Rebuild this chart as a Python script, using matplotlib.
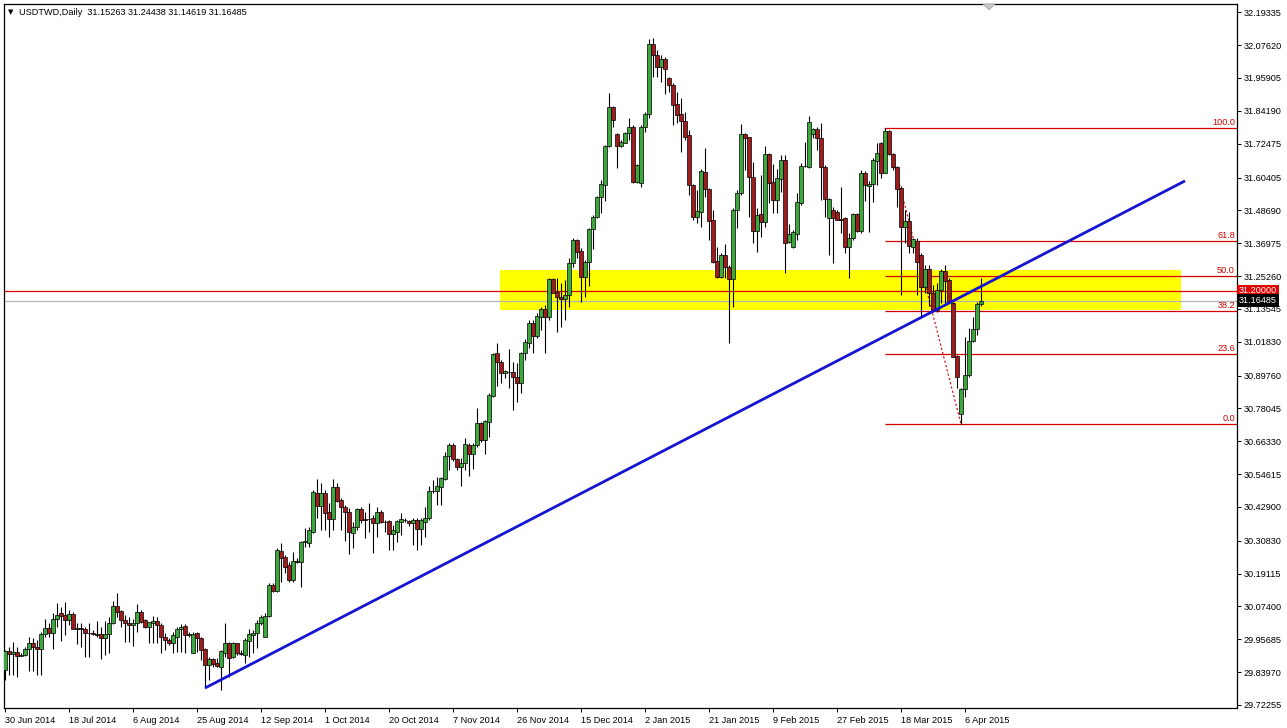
import matplotlib
matplotlib.use("Agg")
import matplotlib.pyplot as plt
import numpy as np
from matplotlib.patches import Rectangle, Polygon
from matplotlib.transforms import blended_transform_factory

# ---------------- data (USDTWD daily) ----------------
opens = [
29.847,29.915,29.905,29.912,29.899,29.900,29.921,29.945,29.930,29.924,
29.976,29.996,29.978,30.028,30.049,30.043,30.026,30.046,29.992,29.996,
29.992,29.981,29.978,29.975,29.975,29.963,29.975,30.014,30.075,30.057,
30.026,30.016,30.008,30.014,30.055,30.026,30.002,30.014,30.023,30.008,
29.966,29.954,29.942,29.966,29.992,30.004,29.972,29.907,29.978,29.960,
29.922,29.865,29.885,29.871,29.859,29.909,29.942,29.895,29.942,29.909,
29.901,29.952,29.972,29.978,30.014,29.966,30.040,30.151,30.130,30.273,
30.249,30.222,30.168,30.237,30.234,30.305,30.302,30.341,30.480,30.432,
30.478,30.412,30.385,30.501,30.454,30.428,30.410,30.337,30.359,30.422,
30.385,30.385,30.388,30.371,30.410,30.377,30.379,30.333,30.341,30.377,
30.383,30.379,30.371,30.383,30.349,30.377,30.388,30.485,30.487,30.501,
30.527,30.611,30.650,30.599,30.570,30.585,30.650,30.618,30.650,30.727,
30.668,30.733,30.825,30.977,30.947,30.906,30.912,30.912,30.894,30.872,
30.979,31.015,31.084,31.039,31.108,31.134,31.108,31.241,31.197,31.179,
31.172,31.184,31.298,31.381,31.343,31.250,31.304,31.419,31.462,31.533,
31.577,31.717,31.854,31.758,31.717,31.728,31.764,31.785,31.589,31.583,
31.785,31.831,32.080,32.041,31.997,32.026,31.958,31.934,31.866,31.831,
31.807,31.756,31.577,31.464,31.482,31.625,31.562,31.453,31.307,31.248,
31.328,31.284,31.241,31.488,31.548,31.759,31.747,31.607,31.415,31.473,
31.447,31.688,31.589,31.524,31.598,31.667,31.375,31.355,31.403,31.512,
31.645,31.643,31.759,31.776,31.744,31.643,31.459,31.488,31.482,31.455,
31.459,31.355,31.387,31.474,31.415,31.621,31.574,31.581,31.664,31.726,
31.621,31.771,31.688,31.640,31.566,31.429,31.449,31.357,31.379,31.328,
31.215,31.277,31.191,31.131,31.203,31.272,31.238,31.155,30.967,30.761,
30.849,30.900,31.022,31.063,31.15263]
highs = [
29.919,29.930,29.948,29.930,29.909,29.930,29.964,29.960,29.954,29.984,
30.028,30.014,30.049,30.085,30.073,30.091,30.061,30.055,30.016,30.014,
30.002,30.014,29.990,30.023,30.002,30.023,30.037,30.094,30.121,30.061,
30.043,30.037,30.028,30.083,30.061,30.031,30.020,30.040,30.037,30.014,
29.978,29.960,29.984,30.002,30.011,30.011,29.984,29.984,29.984,29.966,
29.925,29.895,29.889,29.889,29.919,30.014,29.948,29.948,29.945,29.919,
29.960,29.992,29.990,30.026,30.044,30.049,30.157,30.157,30.281,30.299,
30.258,30.234,30.269,30.246,30.309,30.353,30.356,30.490,30.528,30.513,
30.490,30.442,30.528,30.513,30.460,30.436,30.424,30.377,30.424,30.428,
30.412,30.442,30.400,30.430,30.418,30.383,30.383,30.365,30.383,30.409,
30.388,30.383,30.388,30.388,30.388,30.430,30.504,30.525,30.537,30.537,
30.626,30.656,30.656,30.602,30.602,30.674,30.656,30.656,30.781,30.733,
30.739,30.834,30.977,31.013,30.953,30.918,30.991,30.947,30.941,30.983,
31.027,31.096,31.096,31.120,31.143,31.149,31.245,31.245,31.245,31.227,
31.239,31.316,31.387,31.384,31.352,31.310,31.423,31.470,31.538,31.595,
31.720,31.907,31.859,31.762,31.738,31.768,31.815,31.791,31.652,31.791,
31.839,32.097,32.101,32.059,32.041,32.035,31.964,31.940,31.910,31.887,
31.839,31.774,31.581,31.560,31.633,31.708,31.565,31.488,31.357,31.334,
31.367,31.292,31.494,31.560,31.795,31.762,31.750,31.661,31.494,31.613,
31.717,31.690,31.652,31.633,31.684,31.684,31.438,31.417,31.548,31.655,
31.732,31.823,31.780,31.785,31.797,31.649,31.530,31.500,31.488,31.571,
31.465,31.405,31.476,31.476,31.631,31.628,31.593,31.673,31.726,31.732,
31.780,31.774,31.693,31.645,31.574,31.488,31.482,31.387,31.387,31.334,
31.292,31.292,31.221,31.229,31.277,31.292,31.244,31.161,30.971,30.852,
31.036,31.066,31.108,31.161,31.24438]
lows = [
29.811,29.829,29.829,29.823,29.897,29.897,29.845,29.845,29.829,29.829,
29.966,29.966,29.924,30.002,29.952,29.972,30.008,29.992,29.939,29.930,
29.892,29.892,29.972,29.966,29.885,29.901,29.909,30.011,30.037,30.002,
29.946,29.946,29.933,29.984,30.014,29.996,29.942,29.942,29.942,29.907,
29.919,29.936,29.907,29.913,29.913,29.909,29.966,29.907,29.913,29.883,
29.782,29.812,29.859,29.859,29.776,29.895,29.824,29.889,29.901,29.901,
29.871,29.895,29.907,29.925,30.008,29.966,30.038,30.127,30.127,30.162,
30.192,30.162,30.162,30.228,30.142,30.287,30.287,30.335,30.388,30.347,
30.347,30.323,30.347,30.448,30.347,30.309,30.261,30.281,30.347,30.371,
30.317,30.341,30.264,30.323,30.371,30.341,30.276,30.276,30.305,30.329,
30.377,30.361,30.293,30.276,30.293,30.323,30.383,30.478,30.436,30.436,
30.525,30.561,30.594,30.561,30.504,30.561,30.539,30.563,30.644,30.662,
30.618,30.680,30.822,30.860,30.870,30.888,30.852,30.775,30.805,30.834,
30.953,30.995,30.977,31.031,31.060,30.977,31.096,31.191,31.054,31.072,
31.096,31.143,31.286,31.316,31.161,31.179,31.217,31.348,31.458,31.476,
31.522,31.714,31.785,31.637,31.714,31.726,31.738,31.586,31.583,31.571,
31.768,31.815,31.964,31.962,31.946,31.902,31.910,31.791,31.797,31.696,
31.738,31.542,31.453,31.443,31.426,31.536,31.381,31.300,31.245,31.245,
31.245,31.013,31.141,31.423,31.542,31.631,31.464,31.369,31.340,31.391,
31.429,31.512,31.476,31.479,31.554,31.262,31.372,31.351,31.381,31.506,
31.643,31.637,31.744,31.702,31.524,31.465,31.328,31.300,31.452,31.405,
31.334,31.245,31.381,31.411,31.405,31.521,31.411,31.518,31.577,31.601,
31.619,31.684,31.631,31.500,31.185,31.372,31.334,31.334,31.185,31.102,
31.191,31.146,31.126,31.126,31.158,31.155,31.155,30.965,30.852,30.725,
30.822,30.894,31.019,31.042,31.14619]
closes = [
29.915,29.905,29.912,29.897,29.901,29.922,29.942,29.928,29.924,29.976,
29.996,29.978,30.028,30.043,30.040,30.026,30.046,29.992,29.996,29.992,
29.981,29.978,29.975,29.972,29.963,29.975,30.014,30.075,30.055,30.026,
30.014,30.008,30.016,30.053,30.020,30.002,30.017,30.023,30.008,29.966,
29.954,29.942,29.972,29.992,30.002,29.972,29.974,29.976,29.960,29.919,
29.865,29.885,29.868,29.862,29.915,29.942,29.889,29.942,29.907,29.904,
29.954,29.975,29.978,30.016,30.038,30.040,30.151,30.130,30.275,30.246,
30.216,30.168,30.237,30.234,30.305,30.307,30.347,30.484,30.432,30.478,
30.409,30.385,30.501,30.451,30.428,30.410,30.341,30.359,30.420,30.382,
30.383,30.387,30.371,30.410,30.377,30.375,30.333,30.347,30.379,30.385,
30.382,30.371,30.383,30.349,30.383,30.388,30.485,30.486,30.504,30.531,
30.611,30.650,30.599,30.570,30.585,30.654,30.618,30.650,30.727,30.668,
30.737,30.828,30.975,30.947,30.906,30.915,30.910,30.891,30.872,30.979,
31.019,31.084,31.039,31.110,31.134,31.108,31.241,31.193,31.179,31.172,
31.185,31.298,31.381,31.340,31.250,31.304,31.419,31.462,31.536,31.581,
31.717,31.854,31.809,31.717,31.732,31.762,31.785,31.589,31.649,31.785,
31.831,32.080,32.041,31.999,32.026,31.990,31.934,31.863,31.827,31.807,
31.750,31.577,31.464,31.485,31.629,31.562,31.450,31.304,31.248,31.328,
31.284,31.241,31.488,31.548,31.759,31.744,31.605,31.415,31.470,31.447,
31.688,31.583,31.524,31.601,31.667,31.369,31.403,31.411,31.518,31.645,
31.646,31.803,31.776,31.744,31.643,31.526,31.526,31.459,31.452,31.453,
31.355,31.387,31.474,31.415,31.621,31.577,31.581,31.667,31.690,31.621,
31.771,31.688,31.640,31.562,31.429,31.449,31.360,31.384,31.304,31.215,
31.277,31.191,31.131,31.203,31.272,31.236,31.161,30.965,30.894,30.849,
30.900,31.022,31.063,31.153,31.16485]

date_labels = ["30 Jun 2014", "18 Jul 2014", "6 Aug 2014", "25 Aug 2014",
               "12 Sep 2014", "1 Oct 2014", "20 Oct 2014", "7 Nov 2014",
               "26 Nov 2014", "15 Dec 2014", "2 Jan 2015", "21 Jan 2015",
               "9 Feb 2015", "27 Feb 2015", "18 Mar 2015", "6 Apr 2015"]
date_label_bars = [0, 16, 32, 48, 64, 80, 96, 112, 128, 144, 160, 176, 192, 208, 224, 240]

price_ticks = [32.19335, 32.07620, 31.95905, 31.84190, 31.72475, 31.60405,
               31.48690, 31.36975, 31.25260, 31.13545, 31.01830, 30.89760,
               30.78045, 30.66330, 30.54615, 30.42900, 30.30830, 30.19115,
               30.07400, 29.95685, 29.83970, 29.72255]

fib_high = 31.780
fib_low = 30.725
fib_start_bar = 220
fib_end_bar = 239
fib_levels = [0.0, 23.6, 38.2, 50.0, 61.8, 100.0]

zone_bars = (123.75, 294.0)
zone_prices = (31.1315, 31.274)
trend_bars = (50, 295)
trend_prices = (29.783, 31.592)
level_line = 31.20000
bid_price = 31.16485

# ---------------- figure ----------------
W, H = 1287, 728
fig = plt.figure(figsize=(W / 100, H / 100), dpi=100)
fig.patch.set_facecolor("white")
ax_l, ax_r, ax_t, ax_b = 4, 1237, 4, 708
ax = fig.add_axes([ax_l / W, 1 - ax_b / H, (ax_r - ax_l) / W, (ax_b - ax_t) / H])
ax.set_facecolor("white")

bar_px = 4.0
x0 = -(5 - ax_l) / bar_px
ax.set_xlim(x0, x0 + (ax_r - ax_l) / bar_px)
ax.set_ylim(29.7118, 32.2230)

FONT = ["Liberation Sans", "DejaVu Sans"]
FS = 6.6

idx = np.arange(len(opens))
o = np.array(opens); h = np.array(highs); l = np.array(lows); c = np.array(closes)
up = c >= o

# zone
ax.add_patch(Rectangle((zone_bars[0], zone_prices[0]), zone_bars[1] - zone_bars[0],
                       zone_prices[1] - zone_prices[0], facecolor="#ffff00",
                       edgecolor="none", zorder=1))

# horizontal lines
ax.axhline(level_line, color="#e00000", lw=0.9, zorder=2)
ax.axhline(bid_price, color="#b4b4b4", lw=0.9, zorder=2)

# fibonacci
xr = ax.get_xlim()[1]
for lv in fib_levels:
    p = fib_low + (fib_high - fib_low) * lv / 100.0
    ax.hlines(p, fib_start_bar, xr, color="#d00000", lw=0.9, zorder=2)
    ax.text(xr - 0.5, p + 0.004, f"{lv:.1f}", color="#d00000", fontsize=FS,
            family=FONT, ha="right", va="bottom", zorder=6)
ax.plot([fib_start_bar, fib_end_bar], [fib_high, fib_low], color="#d00000",
        lw=0.8, ls=(0, (2, 2)), zorder=3)

# candles
ax.vlines(idx, l, h, color="black", lw=0.8, zorder=4)
bottoms = np.minimum(o, c)
heights = np.maximum(np.abs(c - o), 0.0008)
colors = np.where(up, "#3aa83a", "#a01c1c")
ax.bar(idx, heights, bottom=bottoms, width=0.78, color=colors,
       edgecolor="black", linewidth=0.5, zorder=5)

# trend line
ax.plot(trend_bars, trend_prices, color="#1414d2", lw=2.0, zorder=6,
        solid_capstyle="butt")

# axes styling
for s in ax.spines.values():
    s.set_color("black")
    s.set_linewidth(0.9)
ax.yaxis.tick_right()
ax.set_yticks(price_ticks)
ax.set_yticklabels([f"{v:.5f}" for v in price_ticks])
ax.tick_params(axis="y", direction="out", length=3, width=0.7, pad=1.5,
               labelsize=FS, colors="black")
ax.set_xticks(date_label_bars)
ax.set_xticklabels(date_labels)
for lab in ax.get_xticklabels():
    lab.set_horizontalalignment("left")
ax.tick_params(axis="x", direction="out", length=3, width=0.7, pad=2.5,
               labelsize=FS, colors="black")
for lab in ax.get_xticklabels() + ax.get_yticklabels():
    lab.set_family(FONT)

# price boxes on right axis
trans = blended_transform_factory(ax.transAxes, ax.transData)
ax.text(1.0 + 2 / (ax_r - ax_l), level_line, f"{level_line:.5f}", transform=trans,
        color="white", fontsize=FS, family=FONT, ha="left", va="center",
        clip_on=False, zorder=10,
        bbox=dict(boxstyle="square,pad=0.18", fc="#e00000", ec="none"))
ax.text(1.0 + 2 / (ax_r - ax_l), bid_price, f"{bid_price:.5f}", transform=trans,
        color="white", fontsize=FS, family=FONT, ha="left", va="center",
        clip_on=False, zorder=11,
        bbox=dict(boxstyle="square,pad=0.18", fc="black", ec="none"))

# header text
fig.text(8 / W, 1 - 12.5 / H, "\u25bc", fontsize=5, family=["DejaVu Sans"],
         va="center", ha="left", color="black")
fig.text(19 / W, 1 - 12.5 / H,
         "USDTWD,Daily  31.15263 31.24438 31.14619 31.16485",
         fontsize=FS, family=FONT, va="center", ha="left", color="black")

# chart shift marker
fig.add_artist(Polygon([[983 / W, 1 - 4 / H], [995 / W, 1 - 4 / H], [989 / W, 1 - 10 / H]],
                       closed=True, transform=fig.transFigure, fc="#c8c8c8",
                       ec="#a0a0a0", lw=0.5))

fig.savefig("out.png", dpi=100)
